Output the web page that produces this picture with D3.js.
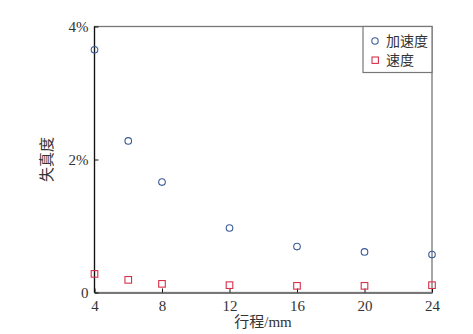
<!DOCTYPE html>
<meta charset="utf-8">
<style>
body { margin: 0; background: #fff; }
text { font-family: "Liberation Serif", "DejaVu Serif", serif; fill: #333; }
.cjk { font-family: "Liberation Serif", "Noto Sans CJK SC", serif; }
</style>
<svg></svg>
<script src="https://cdn.jsdelivr.net/npm/d3@7"></script>
<script>

var width = 473,
    height = 334;

var margin = {top: 26.5, right: 41, bottom: 41.5, left: 94.5};

// data
var stroke = [4, 6, 8, 12, 16, 20, 24];
var accel = [3.65, 2.28, 1.66, 0.97, 0.69, 0.61, 0.57];
var veloc = [0.28, 0.19, 0.13, 0.11, 0.10, 0.10, 0.11];
var xTicks = [4, 8, 12, 16, 20, 24];
var yTicks = [0, 2, 4];
var seriesNames = ["加速度", "速度"];

var svg = d3.select("svg")
    .attr("width", width)
    .attr("height", height);

var x = d3.scaleLinear().domain([4, 24]).range([margin.left, width - margin.right]);
var y = d3.scaleLinear().domain([0, 4]).range([height - margin.bottom, margin.top]);

// frame
svg.append("rect")
    .attr("x", x(4)).attr("y", y(4))
    .attr("width", x(24) - x(4)).attr("height", y(0) - y(4))
    .attr("fill", "none").attr("stroke", "#777").attr("stroke-width", 1.3);

svg.append("line")
    .attr("x1", x(4)).attr("x2", x(4)).attr("y1", y(0)).attr("y2", y(4))
    .attr("stroke", "#111").attr("stroke-width", 1.2);

// x axis
var xAxis = svg.append("g")
    .attr("transform", "translate(0," + y(0) + ")")
    .call(d3.axisBottom(x).tickValues(xTicks).tickSizeInner(-4).tickSizeOuter(0).tickPadding(4));
xAxis.select(".domain").attr("stroke", "#777").attr("stroke-width", 2);
xAxis.selectAll(".tick line").attr("stroke", "#111");
xAxis.selectAll(".tick text").attr("font-size", 15).attr("fill", "#333")
    .attr("dy", "0.95em")
    .style("font-family", "Liberation Serif, serif");

// y axis
var yAxis = svg.append("g")
    .attr("transform", "translate(" + x(4) + ",0)")
    .call(d3.axisLeft(y).tickValues(yTicks).tickSizeInner(-4).tickSizeOuter(0).tickPadding(6)
      .tickFormat(function(d) { return d === 0 ? "0" : d + "%"; }));
yAxis.select(".domain").remove();
yAxis.selectAll(".tick line").attr("stroke", "#111");
yAxis.selectAll(".tick text").attr("font-size", 15).attr("fill", "#333")
    .style("font-family", "Liberation Serif, serif");

// axis titles
svg.append("text")
    .attr("class", "cjk")
    .attr("x", 263).attr("y", 327)
    .attr("text-anchor", "middle")
    .attr("font-size", 15)
    .text("行程/mm");

svg.append("text")
    .attr("class", "cjk")
    .attr("transform", "translate(52," + y(2) + ") rotate(-90)")
    .attr("text-anchor", "middle")
    .attr("font-size", 15)
    .text("失真度");

// points
svg.append("g").selectAll("circle")
    .data(stroke)
    .enter().append("circle")
      .attr("cx", function(d) { return x(d); })
      .attr("cy", function(d, i) { return y(accel[i]); })
      .attr("r", 3.3)
      .attr("fill", "none")
      .attr("stroke", "#3b5b98")
      .attr("stroke-width", 1.1);

svg.append("g").selectAll("rect")
    .data(stroke)
    .enter().append("rect")
      .attr("x", function(d) { return x(d) - 3.3; })
      .attr("y", function(d, i) { return y(veloc[i]) - 3.3; })
      .attr("width", 6.6).attr("height", 6.6)
      .attr("fill", "none")
      .attr("stroke", "#d8314b")
      .attr("stroke-width", 1.1);

// legend
var lx = 363, ly = y(4);
svg.append("rect")
    .attr("x", lx).attr("y", ly)
    .attr("width", x(24) - lx).attr("height", 46)
    .attr("fill", "#fff").attr("stroke", "#777").attr("stroke-width", 1.2);

svg.append("circle")
    .attr("cx", lx + 12).attr("cy", ly + 14.5).attr("r", 3.2)
    .attr("fill", "none").attr("stroke", "#3b5b98").attr("stroke-width", 1.1);
svg.append("rect")
    .attr("x", lx + 9).attr("y", ly + 30.5).attr("width", 6.4).attr("height", 6.4)
    .attr("fill", "none").attr("stroke", "#d8314b").attr("stroke-width", 1.1);

svg.selectAll(".leg")
    .data(seriesNames)
    .enter().append("text")
      .attr("class", "cjk leg")
      .attr("x", lx + 23)
      .attr("y", function(d, i) { return ly + 19.5 + i * 19; })
      .attr("font-size", 14)
      .text(function(d) { return d; });

</script>
